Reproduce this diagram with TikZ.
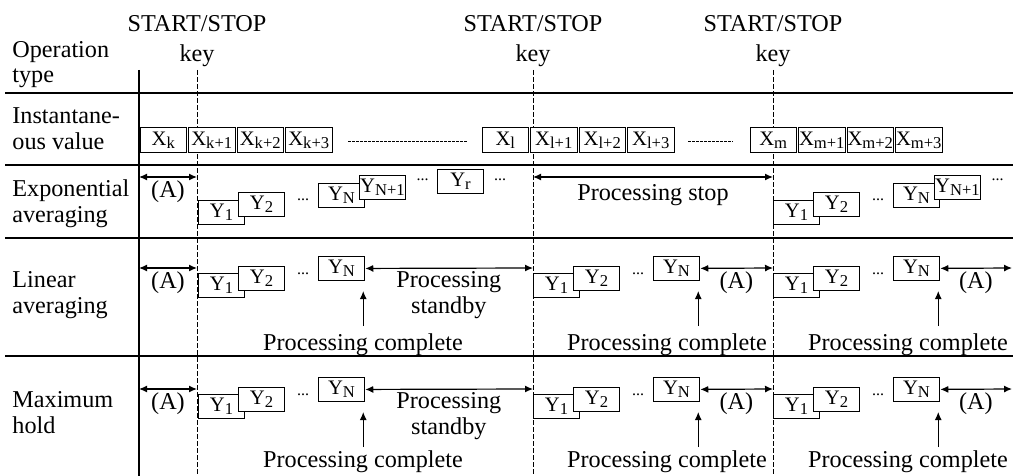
\documentclass[tikz,border=0pt]{standalone}
\usepackage{fontspec}
\setmainfont{Liberation Serif}
\usetikzlibrary{arrows.meta,positioning}
\newcommand\lowidx[1]{\raisebox{-0.35ex}{\fontsize{8.3}{8}\selectfont #1}}
\tikzset{
  xbox/.style={draw,fill=white,line width=0.5pt,inner sep=0pt,
    minimum width=23.25pt,minimum height=12pt,font=\fontsize{10.3}{10}\selectfont},
  ybox/.style={xbox},
  lbl/.style={inner sep=0pt,font=\fontsize{12.1}{12.8}\selectfont},
  dots/.style={inner sep=0pt,font=\fontsize{8}{8}\selectfont},
  keyline/.style={line width=0.5pt,dash pattern=on 2.5pt off 1pt},
  rowline/.style={line width=0.65pt},
  dotline/.style={line width=0.4pt,dash pattern=on 1.3pt off 0.7pt},
  twoway/.style={line width=0.6pt,{Latex[length=4pt,width=3.5pt]}-{Latex[length=4pt,width=3.5pt]}},
  upway/.style={line width=0.6pt,-{Latex[length=4pt,width=3.5pt]}},
}
\begin{document}
\begin{tikzpicture}[x=0.5pt,y=-0.5pt]
\useasboundingbox (0,0) rectangle (1022,476);

\foreach \kx [count=\i] in {197,533,773} {
  \node[lbl,anchor=base] (ss\i) at (\kx,32) {START/STOP};
  \node[lbl,anchor=base] (key\i) at (\kx,62) {key};
  \coordinate (kt\i) at (\kx,70);
  \coordinate (kb\i) at (\kx,476);
  \draw[keyline] (kt\i) -- (kb\i);
}
\coordinate (lt) at (139,70);
\coordinate (lb) at (139,476);
\draw[rowline] (lt) -- (lb);
\foreach \ry [count=\i] in {93,165,238,356} {
  \coordinate (rl\i) at (5,\ry);
  \coordinate (rr\i) at (1013,\ry);
  \draw[rowline] (rl\i) -- (rr\i);
}

\node[lbl,anchor=base west,align=left] (optype) at (12,83) {Operation\\type};
\node[lbl,anchor=base west,align=left] (inst) at (12,149) {Instantane-\\ous value};
\node[lbl,anchor=base west,align=left] (expo) at (12,222) {Exponential\\averaging};
\node[lbl,anchor=base west,align=left] (lin) at (12,313) {Linear\\averaging};
\node[lbl,anchor=base west,align=left] (maxh) at (12,433) {Maximum\\hold};

\node[xbox] (xk) at (163.25,140) {X\lowidx{k}};
\node[xbox,right=0.5pt of xk] (xk1) {X\lowidx{k+1}};
\node[xbox,right=0.5pt of xk1] (xk2) {X\lowidx{k+2}};
\node[xbox,right=0.5pt of xk2] (xk3) {X\lowidx{k+3}};
\node[xbox] (xl) at (505.25,140) {X\lowidx{l}};
\node[xbox,right=0.5pt of xl] (xl1) {X\lowidx{l+1}};
\node[xbox,right=0.5pt of xl1] (xl2) {X\lowidx{l+2}};
\node[xbox,right=0.5pt of xl2] (xl3) {X\lowidx{l+3}};
\node[xbox] (xm) at (773.25,140) {X\lowidx{m}};
\node[xbox,right=0.5pt of xm] (xm1) {X\lowidx{m+1}};
\node[xbox,right=0.5pt of xm1] (xm2) {X\lowidx{m+2}};
\node[xbox,right=0.5pt of xm2] (xm3) {X\lowidx{m+3}};
\coordinate (da1) at (348,141);
\coordinate (db1) at (467,141);
\draw[dotline] (da1) -- (db1);
\coordinate (da2) at (688,141);
\coordinate (db2) at (733,141);
\draw[dotline] (da2) -- (db2);

\coordinate (ea1) at (139,177);
\coordinate (ea2) at (197,177);
\draw[twoway] (ea1) -- (ea2);
\node[lbl,anchor=base] (ea) at (168,197) {(A)};
\foreach \g/\gx in {1/198,3/773} {
  \node[ybox] (ey1\g) at (\gx+23.5,212) {Y\lowidx{1}};
  \node[ybox] (ey2\g) at (\gx+63.5,204.5) {Y\lowidx{2}};
  \node[dots] (ed1\g) at (\gx+105,200) {...};
  \node[ybox] (eyn\g) at (\gx+143.5,195) {Y\lowidx{N}};
  \node[ybox] (eyp\g) at (\gx+184.5,187) {Y\lowidx{N+1}};
  \node[dots] (ed2\g) at (\gx+224.5,180) {...};
}
\node[ybox] (eyr) at (460.5,181) {Y\lowidx{r}};
\node[dots] (ed3) at (500,180) {...};
\coordinate (ps1) at (533,177);
\coordinate (ps2) at (773,177);
\draw[twoway] (ps1) -- (ps2);
\node[lbl,anchor=base] (pstop) at (653,200) {Processing stop};

\foreach \r/\ay/\pb in {l/268/350,m/389/467} {
  \coordinate (aa\r) at (139,\ay);
  \coordinate (ab\r) at (197,\ay);
  \draw[twoway] (aa\r) -- (ab\r);
  \node[lbl,anchor=base] (a\r) at (168,\ay+20) {(A)};
  \foreach \g/\gx/\ge/\px/\tb/\txt in {1/198/533/363/45/{Processing\\standby},2/533/773/667/20/{(A)},3/773/1012/908/20/{(A)}} {
    \node[ybox] (y1\r\g) at (\gx+23.5,\ay+17.5) {Y\lowidx{1}};
    \node[ybox] (y2\r\g) at (\gx+63.5,\ay+10.5) {Y\lowidx{2}};
    \node[dots] (d\r\g) at (\gx+105,\ay+6) {...};
    \node[ybox] (yn\r\g) at (\gx+143.5,\ay+0.5) {Y\lowidx{N}};
    \coordinate (ae\r\g) at (\ge,\ay);
    \draw[twoway] (yn\r\g) -- (ae\r\g);
    \node[lbl,anchor=base,align=center] (t\r\g) at ({(\gx+166.75+\ge)/2},\ay+\tb) {\txt};
    \coordinate (pt\r\g) at ([xshift=-1pt,yshift=-22.5pt]yn\r\g.south east);
    \draw[upway] (pt\r\g) -- ([xshift=-1pt,yshift=-5pt]yn\r\g.south east);
    \node[lbl,anchor=base] (pc\r\g) at (\px,\pb) {Processing complete};
  }
}
\end{tikzpicture}
\end{document}
